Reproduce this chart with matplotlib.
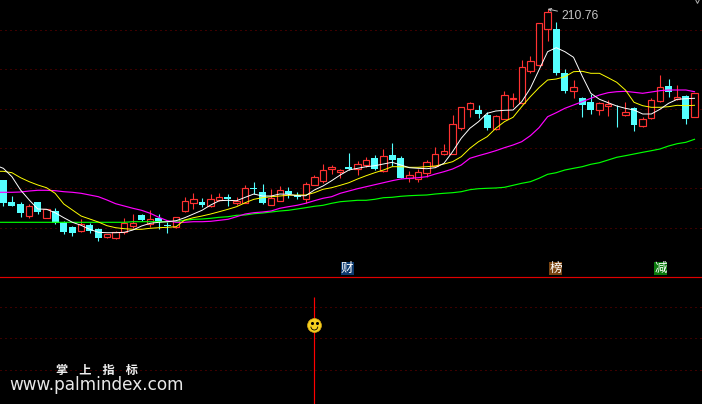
import numpy as np
import matplotlib
matplotlib.use('Agg')
import matplotlib.pyplot as plt
from matplotlib.patches import Arc

# prices are on the chart's own scale (0 = separator line, top of panel = 277)
high = [97,81,74.7,73,75,68.3,68.7,56,51.3,58,53.7,48.7,43,46,59,63,63,67,63,55.3,59.7,80,84,79,83,84,83,
        79.7,92,95,93,87.7,91,89.7,84.7,95,102,113,111.7,107.7,124,116,120,122,128,134,121,106,108,117,130,133,162,169.7,
        175,172,165.3,162,186,183.7,217,221,253.7,268,255,207.7,197,180.3,183,175.3,177,171.7,175,169.7,160.3,178.7,201.7,198,191.7,182,183.7]
low = [71.3,71,60.3,59.3,63,59.3,53,43,41.3,45.3,44,36.3,39.3,38.3,43.3,48.7,55.7,50.3,48.3,44.3,49,65.3,68,70,69.7,76,71.3,
       72,73.7,83,73,72,76,79.3,77.7,73.7,91.7,93.7,103,99,107,102,110.3,107,105,111,98.7,95,95,100.3,110.3,121.7,122.7,147,
       160.3,158.7,147,147,157.7,170.3,173,203.7,211,236.3,202,184.3,179,160.3,163,162.3,161,149.7,161,146.3,150,158,175,180,177,153.3,160.3]
body_top = [97,75,73,70.7,75,67.7,66,54.7,50,53.3,51.7,47.7,42.7,44.7,53.7,54,62,57.7,58.7,52,59.7,75.7,77.7,75,77.7,79.7,80,
            76.3,88.7,89.3,85,79.3,86.7,86,81.7,92.7,99.7,106.7,109.7,106.7,110,112.7,116.7,119,120.7,122,119,101.7,105,114.7,122.7,125.7,152.7,169.7,
            173.7,167,161.7,160.7,181.7,179.3,209.7,215.7,253.7,264.7,248,203.7,189.7,178.7,175,173.7,172.7,168.3,164.7,169,158.3,176.7,190.3,191,179.7,181,183.7]
body_bottom = [74.3,71,64,61,65,59.3,54.3,45.3,44.3,46.3,46.3,39.3,40.3,39.3,44.7,51.3,56.7,52.7,55.3,51.3,49.7,66.3,74.3,72.3,71,77,78,
               73.7,74.3,88.3,74.3,72.3,76.3,83,79.7,78.3,92.3,96.3,107.7,105.3,108,107.7,112.3,108.3,105.7,117.3,99.3,99,98,103.7,110.7,122.7,123.3,149.3,
               168.3,163,148.7,148.3,158.3,178.3,173.7,205.7,211.7,247.7,203.7,186.3,185.7,172.3,167.3,166.7,171,167.7,161.7,152.3,151.3,158.7,175.7,185.3,178,157.7,160.3]
# 1 = up candle (hollow red), 0 = down candle (solid cyan)
up = [0,0,0,1,0,1,0,0,0,1,0,0,1,1,1,1,0,1,0,0,1,1,1,0,1,1,0,
      1,1,0,0,1,1,0,0,1,1,1,1,1,0,1,1,0,1,0,0,1,1,1,1,1,1,1,
      1,0,0,1,1,1,1,1,1,1,0,0,1,0,0,1,1,0,1,0,1,1,1,0,1,0,1]

# moving averages start one bar before the first visible candle
ma_white = [112,108.7,100.3,87,77,68,67.7,64.3,59.3,54.7,51.7,47.7,44.7,44.3,44.3,44.7,47,51,53.7,54.7,55.3,56.3,59.3,63,66.7,72,76.3,76.7,
            76.3,79.7,83,81,81,83,82.7,81.3,81.3,87,91,96.3,102,107,108.7,110.3,111.3,113,114.7,112,109.3,108.7,108.3,109.3,113.7,125.3,138.7,
            148.7,155.3,163.7,166,166.7,167,175.3,188.7,207,225.3,229.3,225.3,219.7,201,183.7,177.7,174.3,171,168.7,167,163,163,167.7,173.7,177.7,178.3,178.7]
ma_yellow = [105.7,105.7,104.3,99.3,95.3,92,89.3,83.7,73,67,61,58,55,51.3,49.3,48.3,47.7,47.7,48.7,49.3,49.7,50.3,57,59.3,61,63,65.3,67.7,
             70.3,74.3,77.7,79.3,80.3,81,81.7,82,82,84.3,87.7,89.3,91.7,94.3,98,101.3,104.3,107,110.3,110.3,109.7,109.7,110.3,111,113,115.3,120.3,
             128.7,135.3,140.3,148.7,155.3,159.7,170.3,180.3,189.3,197,198,200.3,205.3,205.7,203.7,203.7,199.3,194.7,187,174.7,171.3,169.7,169.7,170.3,171.7,171.3,171.7]
ma_magenta = [84.7,84.7,84.7,85,86,86.7,86.7,86.3,85.3,84.7,83.7,82,80.3,77,73.3,71,68.7,66.7,63.7,59.7,56.3,54.7,54.7,55.3,55.3,55.7,56.7,57.7,
              60.3,63,64.3,65,66,68.7,70.3,71.7,73.7,76.3,78.7,80.3,83.7,86,88.3,90.3,92.3,94.3,96.3,98,98.7,99.3,100.3,103,105.3,108,112,
              118.7,121.3,123.7,126.3,129.3,132,135.3,141.3,149.3,160.3,164.3,168.7,172,175.3,178.7,182,184.3,185.3,185.7,184.7,183.7,185,186.3,187,187,187,185.3]
ma_green = [54.7,54.7,54.7,54.7,54.7,54.7,54.7,54.7,54.7,54.7,54.7,54.7,54.7,54.7,54.7,54.7,55.3,55.3,55.3,55.3,55.3,55.7,56.7,57.7,58,58.7,59.7,60.3,
            61.7,62,63.3,64,65,66,66.7,68,69.3,70.7,71.7,73.7,75.3,76,76.7,76.7,77.7,79.3,79.7,80.7,81.3,81.7,82,83,83.7,84.3,85.3,
            87.3,88.3,88.7,89,89.7,91.7,93.7,95.3,98.7,102.7,104.3,107,108.7,110.3,112.7,114.3,117,119.7,121.3,123,124.7,126.3,128,131,133.3,134.7,137.7]

top_grid = [247.5, 208, 168.3, 128.7, 89, 49.5]
low_grid = [97, 66, 34]

peak_index = 63
peak_label = '210.76'
news_pos = [39.8, 63.9, 76.05]
news_text = ['财', '榜', '减']
news_color = ['#0c3a6e', '#7a4512', '#0a7a0c']
signal_index = 36
signal_top = 107
smile_level = 79

plt.rcParams['font.family'] = ['Noto Sans CJK SC', 'DejaVu Sans']

W, H = 702, 404
SPLIT = 277
BAR = 8.64
RED = '#ff3232'
CYAN = '#54ffff'
GRID = '#7a0000'

x0 = -3.3 / BAR
x1 = (W - 3.3) / BAR

fig = plt.figure(figsize=(W / 100, H / 100), dpi=100, facecolor='black')
ax = fig.add_axes([0, (H - SPLIT) / H, 1, SPLIT / H])
ax2 = fig.add_axes([0, 0, 1, (H - SPLIT) / H])

for a in (ax, ax2):
    a.set_xlim(x0, x1)
    a.axis('off')
ax.set_ylim(0, SPLIT)
ax2.set_ylim(0, H - SPLIT)

for g in top_grid:
    ax.axhline(g, color=GRID, lw=0.72, ls=(0, (1, 4)), zorder=1)
for g in low_grid:
    ax2.axhline(g, color=GRID, lw=0.72, ls=(0, (1, 4)), zorder=1)
ax.axhline(0, color='#e00000', lw=0.85, zorder=1, clip_on=False)

# candles
idx = np.arange(len(high))
high = np.array(high)
low = np.array(low)
body_top = np.array(body_top)
body_bottom = np.array(body_bottom)
up = np.array(up, dtype=bool)

ax.vlines(idx[up], low[up], high[up], color=RED, lw=0.8, zorder=2)
ax.vlines(idx[~up], low[~up], high[~up], color=CYAN, lw=0.8, zorder=2)
ax.bar(idx[up], (body_top - body_bottom)[up], 0.74, bottom=body_bottom[up],
       facecolor='black', edgecolor=RED, lw=0.85, zorder=3)
ax.bar(idx[~up], (body_top - body_bottom)[~up], 0.8, bottom=body_bottom[~up],
       facecolor=CYAN, edgecolor='none', zorder=3)

# moving averages
ma_x = np.arange(-1, len(high))
ax.plot(ma_x, ma_green, color='#00ff00', lw=0.85, zorder=4)
ax.plot(ma_x, ma_magenta, color='#ff00ff', lw=0.85, zorder=4)
ax.plot(ma_x, ma_yellow, color='#ffff00', lw=0.7, zorder=5)
ax.plot(ma_x, ma_white, color='white', lw=0.7, zorder=6)

# highest price label
ax.annotate(peak_label, xy=(peak_index, high[peak_index]), xytext=(14, -7), textcoords='offset pixels',
            color='#c4c4c4', fontsize=8.7, family=['Liberation Sans', 'DejaVu Sans'], va='center', ha='left',
            arrowprops=dict(arrowstyle='->', color='#c4c4c4', lw=0.7, shrinkA=1, shrinkB=0,
                            mutation_scale=5), zorder=7)
ax.plot([80.3], [SPLIT], marker='v', ms=5, mfc='none', mec='#b0b0b0', mew=0.7, zorder=7)

# news badges
for i, t, c in zip(news_pos, news_text, news_color):
    ax.text(i, 8.5, t, color='white', fontsize=9, ha='center', va='center', zorder=8,
            bbox=dict(facecolor=c, edgecolor='none', pad=0.2))

# bottom panel signal
ax2.vlines(signal_index, 0, signal_top, color='#ff0000', lw=0.85, zorder=2)
ax2.plot([signal_index], [smile_level], marker='o', ms=10, mfc='#f5d020', mec='#d8a810', mew=0.5, zorder=3)
ax2.plot([signal_index - 0.25, signal_index + 0.25], [smile_level + 2.2, smile_level + 2.2], ls='none',
         marker='o', ms=1.2, color='black', zorder=4)
ax2.add_patch(Arc((signal_index, smile_level - 1.5), 0.8, 7, theta1=200, theta2=340, color='black', lw=0.6, zorder=4))

fig.text(97 / W, 1 - 370 / H, '掌    上    指    标', color='#f0f0f0', fontsize=8.8, fontweight='bold',
         ha='center', va='center')
fig.text(97 / W, 1 - 385 / H, 'www.palmindex.com', color='#e8e8e8', fontsize=12.2, family='DejaVu Sans',
         ha='center', va='center')

plt.savefig('out.png', dpi=100, facecolor='black')
